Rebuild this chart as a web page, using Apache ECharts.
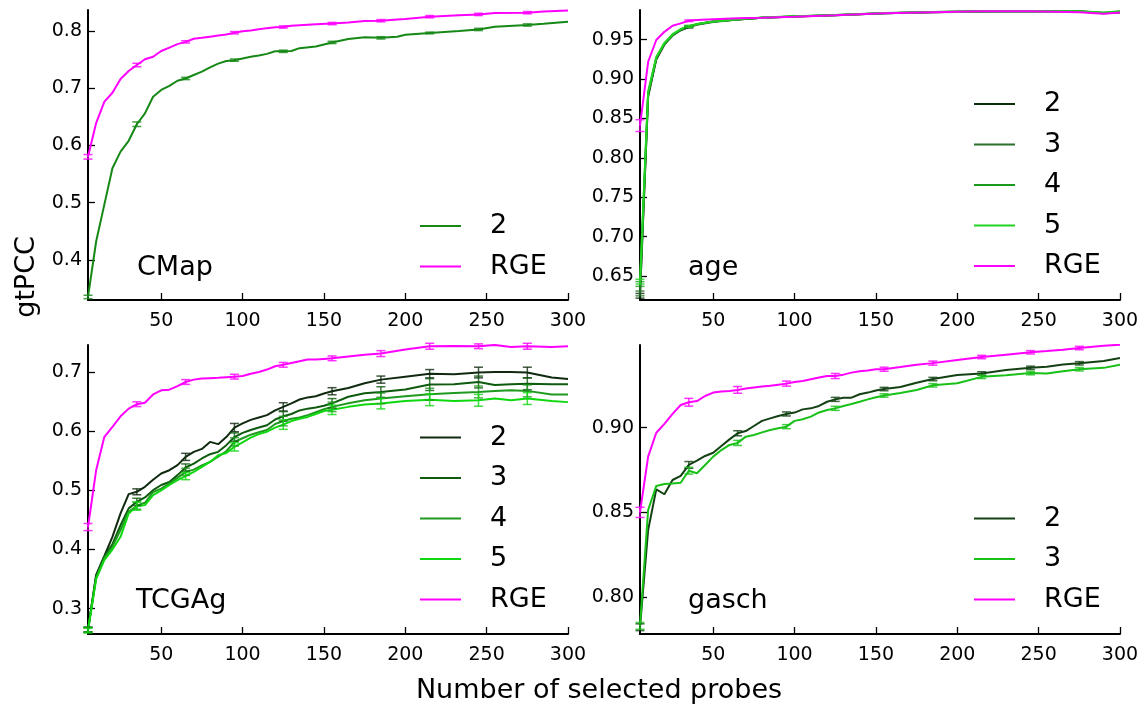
<!DOCTYPE html>
<html>
<head>
<meta charset="utf-8">
<script src="https://cdn.jsdelivr.net/npm/echarts@6/dist/echarts.min.js"></script>
<style>
  html, body { margin: 0; padding: 0; background: #fff; }
  #main { width: 1148px; height: 711px; }
</style>
</head>
<body>
<div id="main"></div>
<script>
// ---- data ----
const xTicks = [50, 100, 150, 200, 250, 300];

// CMap
const cmapX = [5,10,15,20,25,30,35,40,45,50,55,60,65,70,75,80,85,90,95,100,105,110,115,120,125,130,135,145,155,165,175,185,195,200,215,233,245,255,275,285,300];
const cmap2 = [0.335,0.432,0.496,0.560,0.589,0.608,0.637,0.656,0.685,0.697,0.704,0.713,0.717,0.723,0.729,0.7365,0.743,0.7475,0.749,0.752,0.755,0.757,0.760,0.7645,0.7645,0.765,0.770,0.773,0.780,0.786,0.789,0.788,0.790,0.7935,0.7965,0.800,0.8027,0.8075,0.8105,0.8128,0.8163];
const cmapRGE = [0.580,0.639,0.676,0.692,0.716,0.730,0.7405,0.7505,0.755,0.765,0.771,0.777,0.781,0.7865,0.788,0.790,0.792,0.794,0.797,0.7995,0.801,0.803,0.805,0.8065,0.807,0.809,0.810,0.812,0.813,0.815,0.8175,0.818,0.820,0.821,0.825,0.8275,0.829,0.8315,0.832,0.834,0.836];
const cmapErrX = [5,35,65,95,125,155,185,215,245,275];
const cmap2Err = [0.003,0.004,0.002,0.002,0.002,0.002,0.002,0.0015,0.002,0.002];
const cmapRGEErr = [0.004,0.003,0.002,0.002,0.002,0.002,0.002,0.002,0.002,0.002];
const cmapYTicks = [0.4, 0.5, 0.6, 0.7, 0.8];

// age
const ageX = [5,10,15,20,25,30,35,40,50,65,80,100,125,155,185,215,245,275,290,300];
const age2 = [0.625,0.878,0.925,0.944,0.956,0.962,0.966,0.9695,0.973,0.9755,0.978,0.9795,0.981,0.9835,0.985,0.986,0.986,0.986,0.9835,0.9845];
const age3 = [0.628,0.880,0.926,0.944,0.955,0.962,0.9665,0.969,0.9725,0.9755,0.978,0.9795,0.981,0.9835,0.985,0.9855,0.986,0.9855,0.984,0.985];
const age4 = [0.640,0.882,0.927,0.945,0.956,0.963,0.967,0.9695,0.973,0.9757,0.978,0.9795,0.9812,0.9837,0.9852,0.986,0.9862,0.986,0.984,0.9858];
const age5 = [0.643,0.884,0.928,0.946,0.957,0.9635,0.967,0.970,0.9732,0.976,0.9782,0.9797,0.9813,0.9838,0.9853,0.986,0.9862,0.9862,0.9845,0.986];
const ageRGE = [0.841,0.922,0.9496,0.960,0.9678,0.9707,0.974,0.975,0.976,0.9772,0.978,0.9792,0.981,0.9835,0.985,0.986,0.986,0.985,0.983,0.9845];
const ageErrX = [5,35];
const age2Err = [0.003,0.001];
const age3Err = [0.003,0.001];
const age4Err = [0.003,0.001];
const age5Err = [0.003,0.001];
const ageRGEErr = [0.0075,0.001];
const ageYTicks = [0.65, 0.70, 0.75, 0.80, 0.85, 0.90, 0.95];

// TCGAg
const tcgaX = [5,10,15,20,25,30,35,40,45,50,55,60,65,70,75,80,85,90,95,100,105,110,115,120,125,130,135,140,145,150,155,165,175,185,200,215,230,245,255,265,275,290,300];
const tcga2 = [0.264,0.357,0.389,0.4215,0.461,0.4936,0.4975,0.506,0.518,0.5285,0.534,0.5425,0.5565,0.565,0.570,0.5818,0.578,0.590,0.606,0.613,0.619,0.623,0.627,0.635,0.641,0.647,0.6534,0.657,0.659,0.6635,0.6674,0.673,0.681,0.687,0.692,0.697,0.696,0.699,0.700,0.700,0.699,0.6905,0.688];
const tcga3 = [0.265,0.355,0.388,0.409,0.441,0.4695,0.4806,0.488,0.5003,0.509,0.514,0.5257,0.5386,0.545,0.5538,0.561,0.565,0.5763,0.590,0.597,0.602,0.606,0.610,0.6197,0.625,0.629,0.635,0.638,0.640,0.643,0.647,0.658,0.664,0.666,0.6705,0.6787,0.679,0.683,0.678,0.679,0.680,0.679,0.679];
const tcga4 = [0.265,0.352,0.385,0.405,0.433,0.4637,0.474,0.479,0.497,0.503,0.5116,0.521,0.5312,0.535,0.542,0.548,0.557,0.566,0.5818,0.588,0.594,0.598,0.602,0.612,0.617,0.621,0.623,0.627,0.632,0.637,0.641,0.647,0.652,0.6553,0.659,0.6624,0.6645,0.6662,0.668,0.669,0.668,0.662,0.662];
const tcga5 = [0.263,0.350,0.382,0.400,0.4215,0.461,0.4733,0.475,0.492,0.500,0.509,0.5172,0.524,0.531,0.5397,0.548,0.5594,0.563,0.5734,0.581,0.589,0.595,0.599,0.606,0.611,0.617,0.621,0.624,0.629,0.634,0.636,0.641,0.645,0.6466,0.651,0.653,0.651,0.652,0.655,0.652,0.655,0.651,0.649];
const tcgaRGE = [0.438,0.534,0.590,0.607,0.625,0.638,0.6455,0.648,0.662,0.669,0.670,0.676,0.683,0.687,0.689,0.6895,0.690,0.691,0.692,0.693,0.697,0.700,0.704,0.7096,0.712,0.715,0.718,0.721,0.721,0.722,0.723,0.726,0.729,0.731,0.738,0.7434,0.744,0.7434,0.7456,0.742,0.7434,0.742,0.7434];
const tcgaErrX = [5,35,65,95,125,155,185,215,245,275];
const tcga2Err = [0.004,0.005,0.006,0.007,0.007,0.006,0.006,0.007,0.009,0.009];
const tcga3Err = [0.004,0.006,0.006,0.007,0.008,0.008,0.009,0.010,0.010,0.010];
const tcga4Err = [0.004,0.006,0.006,0.007,0.008,0.008,0.009,0.010,0.010,0.010];
const tcga5Err = [0.004,0.007,0.006,0.007,0.008,0.008,0.009,0.010,0.010,0.010];
const tcgaRGEErr = [0.006,0.004,0.004,0.004,0.004,0.004,0.005,0.005,0.004,0.005];
const tcgaYTicks = [0.3, 0.4, 0.5, 0.6, 0.7];

// gasch
const gaschX = [5,10,15,20,25,30,35,40,45,50,55,60,65,70,75,80,85,90,95,100,105,110,115,120,125,130,135,140,145,150,155,165,175,185,200,215,230,245,255,265,275,290,300];
const gasch2 = [0.7822,0.8396,0.8636,0.8607,0.8691,0.8715,0.878,0.8805,0.8833,0.8852,0.8892,0.8931,0.8967,0.898,0.901,0.904,0.9055,0.9069,0.9081,0.9089,0.9108,0.9114,0.9128,0.9153,0.9167,0.9177,0.9177,0.9197,0.9207,0.9219,0.9228,0.924,0.9265,0.9287,0.9311,0.932,0.934,0.9353,0.936,0.9373,0.938,0.9393,0.9411];
const gasch3 = [0.783,0.8514,0.8656,0.8668,0.867,0.8675,0.8746,0.8731,0.878,0.8829,0.8868,0.8898,0.891,0.8947,0.8957,0.8972,0.8986,0.8996,0.9006,0.904,0.905,0.9065,0.909,0.9104,0.9114,0.9128,0.914,0.9153,0.9167,0.918,0.919,0.9205,0.9222,0.925,0.9262,0.930,0.931,0.9322,0.932,0.9333,0.9345,0.9353,0.9371];
const gaschRGE = [0.850,0.8829,0.897,0.9022,0.9081,0.9134,0.915,0.9157,0.9187,0.9207,0.9213,0.9217,0.9223,0.9231,0.9237,0.9243,0.9247,0.9254,0.926,0.927,0.9276,0.9286,0.9296,0.9305,0.9305,0.9313,0.9325,0.9333,0.9337,0.9345,0.9345,0.9358,0.9372,0.9381,0.940,0.9417,0.9431,0.9445,0.9452,0.946,0.947,0.9483,0.949];
const gaschErrX = [5,35,65,95,125,155,185,215,245,275];
const gasch2Err = [0.002,0.002,0.0015,0.0012,0.0012,0.001,0.001,0.001,0.001,0.001];
const gasch3Err = [0.002,0.002,0.0015,0.0012,0.0012,0.001,0.001,0.001,0.001,0.001];
const gaschRGEErr = [0.003,0.0023,0.002,0.0015,0.0015,0.0012,0.0012,0.001,0.001,0.001];
const gaschYTicks = [0.80, 0.85, 0.90];

// ---- styling ----
const FONT = 'DejaVu Sans';
const MAGENTA = '#ff00ff';

const chart = echarts.init(document.getElementById('main'));

const grids = [
  { left: 88, top: 10, width: 480, height: 290 },
  { left: 640, top: 10, width: 480, height: 290 },
  { left: 88, top: 345, width: 480, height: 289 },
  { left: 640, top: 345, width: 480, height: 289 }
];

function xAxisFor(i) {
  return {
    type: 'value', gridIndex: i, min: 5, max: 300,
    axisLine: { show: true, lineStyle: { color: '#000', width: 2 } },
    axisTick: { show: true, inside: true, length: 7, customValues: xTicks, lineStyle: { color: '#000', width: 1.3 } },
    axisLabel: { customValues: xTicks, color: '#000', fontFamily: FONT, fontSize: 19, margin: 12 },
    splitLine: { show: false }
  };
}

function yAxisFor(i, min, max, ticks, digits) {
  return {
    type: 'value', gridIndex: i, min: min, max: max,
    axisLine: { show: true, lineStyle: { color: '#000', width: 2 } },
    axisTick: { show: true, inside: true, length: 7, customValues: ticks, lineStyle: { color: '#000', width: 1.3 } },
    axisLabel: {
      customValues: ticks, color: '#000', fontFamily: FONT, fontSize: 19, margin: 6,
      formatter: v => v.toFixed(digits)
    },
    splitLine: { show: false }
  };
}

function pairs(xs, ys) {
  return xs.map((x, k) => [x, ys[k]]);
}

function lineSeries(panel, idx, name, xs, ys, color) {
  return {
    type: 'line', name: panel + ':' + name, xAxisIndex: idx, yAxisIndex: idx,
    data: pairs(xs, ys), symbol: 'none', showSymbol: false,
    lineStyle: { color: color, width: 2 }, itemStyle: { color: color },
    z: name === 'RGE' ? 3 : 2, silent: true
  };
}

function renderErr(params, api) {
  const x = api.value(0), y = api.value(1), e = api.value(2);
  const top = api.coord([x, y + e]);
  const bot = api.coord([x, y - e]);
  const style = { stroke: api.visual('color'), lineWidth: 1.5, opacity: 0.8 };
  return {
    type: 'group',
    children: [
      { type: 'line', shape: { x1: top[0], y1: top[1], x2: bot[0], y2: bot[1] }, style: style },
      { type: 'line', shape: { x1: top[0] - 4.5, y1: top[1], x2: top[0] + 4.5, y2: top[1] }, style: style },
      { type: 'line', shape: { x1: bot[0] - 4.5, y1: bot[1], x2: bot[0] + 4.5, y2: bot[1] }, style: style }
    ]
  };
}

function errSeries(idx, xs, ys, errX, errs, color) {
  const data = errX.map((x, k) => [x, ys[xs.indexOf(x)], errs[k]]);
  return {
    type: 'custom', name: 'err', xAxisIndex: idx, yAxisIndex: idx,
    renderItem: renderErr, data: data, itemStyle: { color: color },
    z: 4, silent: true
  };
}

function legendFor(left, top, names) {
  return {
    left: left, top: top, orient: 'vertical', padding: 0,
    icon: 'rect', itemWidth: 41, itemHeight: 2.2, itemGap: 13.5, selectedMode: false,
    data: names, formatter: n => n.split(':')[1],
    textStyle: { fontFamily: FONT, fontSize: 27, color: '#000', lineHeight: 27, padding: [0, 0, 0, 24] }
  };
}

// panel colours
const cmapC = { '2': '#168816' };
const ageC = { '2': '#0b2e0b', '3': '#2a6f2a', '4': '#1a9a1a', '5': '#22d422' };
const tcgaC = { '2': '#102a10', '3': '#0e5a0e', '4': '#1f9a1f', '5': '#10d810' };
const gaschC = { '2': '#134113', '3': '#18c018' };

const series = [
  lineSeries('CMap', 0, '2', cmapX, cmap2, cmapC['2']),
  lineSeries('CMap', 0, 'RGE', cmapX, cmapRGE, MAGENTA),
  errSeries(0, cmapX, cmap2, cmapErrX, cmap2Err, cmapC['2']),
  errSeries(0, cmapX, cmapRGE, cmapErrX, cmapRGEErr, MAGENTA),

  lineSeries('age', 1, '2', ageX, age2, ageC['2']),
  lineSeries('age', 1, '3', ageX, age3, ageC['3']),
  lineSeries('age', 1, '4', ageX, age4, ageC['4']),
  lineSeries('age', 1, '5', ageX, age5, ageC['5']),
  lineSeries('age', 1, 'RGE', ageX, ageRGE, MAGENTA),
  errSeries(1, ageX, age2, ageErrX, age2Err, ageC['2']),
  errSeries(1, ageX, age3, ageErrX, age3Err, ageC['3']),
  errSeries(1, ageX, age4, ageErrX, age4Err, ageC['4']),
  errSeries(1, ageX, age5, ageErrX, age5Err, ageC['5']),
  errSeries(1, ageX, ageRGE, ageErrX, ageRGEErr, MAGENTA),

  lineSeries('TCGAg', 2, '2', tcgaX, tcga2, tcgaC['2']),
  lineSeries('TCGAg', 2, '3', tcgaX, tcga3, tcgaC['3']),
  lineSeries('TCGAg', 2, '4', tcgaX, tcga4, tcgaC['4']),
  lineSeries('TCGAg', 2, '5', tcgaX, tcga5, tcgaC['5']),
  lineSeries('TCGAg', 2, 'RGE', tcgaX, tcgaRGE, MAGENTA),
  errSeries(2, tcgaX, tcga2, tcgaErrX, tcga2Err, tcgaC['2']),
  errSeries(2, tcgaX, tcga3, tcgaErrX, tcga3Err, tcgaC['3']),
  errSeries(2, tcgaX, tcga4, tcgaErrX, tcga4Err, tcgaC['4']),
  errSeries(2, tcgaX, tcga5, tcgaErrX, tcga5Err, tcgaC['5']),
  errSeries(2, tcgaX, tcgaRGE, tcgaErrX, tcgaRGEErr, MAGENTA),

  lineSeries('gasch', 3, '2', gaschX, gasch2, gaschC['2']),
  lineSeries('gasch', 3, '3', gaschX, gasch3, gaschC['3']),
  lineSeries('gasch', 3, 'RGE', gaschX, gaschRGE, MAGENTA),
  errSeries(3, gaschX, gasch2, gaschErrX, gasch2Err, gaschC['2']),
  errSeries(3, gaschX, gasch3, gaschErrX, gasch3Err, gaschC['3']),
  errSeries(3, gaschX, gaschRGE, gaschErrX, gaschRGEErr, MAGENTA)
];

const panelText = (text, x, y) => ({
  type: 'text', left: x, top: y,
  style: { text: text, fontFamily: FONT, fontSize: 27, fill: '#000' }
});

const option = {
  animation: false,
  backgroundColor: '#fff',
  grid: grids,
  xAxis: [0, 1, 2, 3].map(xAxisFor),
  yAxis: [
    yAxisFor(0, 0.3297, 0.8367, cmapYTicks, 1),
    yAxisFor(1, 0.6197, 0.9877, ageYTicks, 2),
    yAxisFor(2, 0.2573, 0.7455, tcgaYTicks, 1),
    yAxisFor(3, 0.7782, 0.9488, gaschYTicks, 2)
  ],
  legend: [
    legendFor(420, 212.5, ['CMap:2', 'CMap:RGE']),
    legendFor(974, 90.5, ['age:2', 'age:3', 'age:4', 'age:5', 'age:RGE']),
    legendFor(420, 424, ['TCGAg:2', 'TCGAg:3', 'TCGAg:4', 'TCGAg:5', 'TCGAg:RGE']),
    legendFor(974, 505, ['gasch:2', 'gasch:3', 'gasch:RGE'])
  ],
  graphic: [
    panelText('CMap', 137, 254),
    panelText('age', 688, 254),
    panelText('TCGAg', 136, 587),
    panelText('gasch', 688, 587),
    {
      type: 'text', x: 599, y: 691,
      style: { text: 'Number of selected probes', fontFamily: FONT, fontSize: 27, fill: '#000', align: 'center', verticalAlign: 'middle' }
    },
    {
      type: 'text', x: 27, y: 277, rotation: Math.PI / 2,
      style: { text: 'gtPCC', fontFamily: FONT, fontSize: 27, fill: '#000', align: 'center', verticalAlign: 'middle' }
    }
  ],
  series: series
};

chart.setOption(option);
</script>
</body>
</html>
